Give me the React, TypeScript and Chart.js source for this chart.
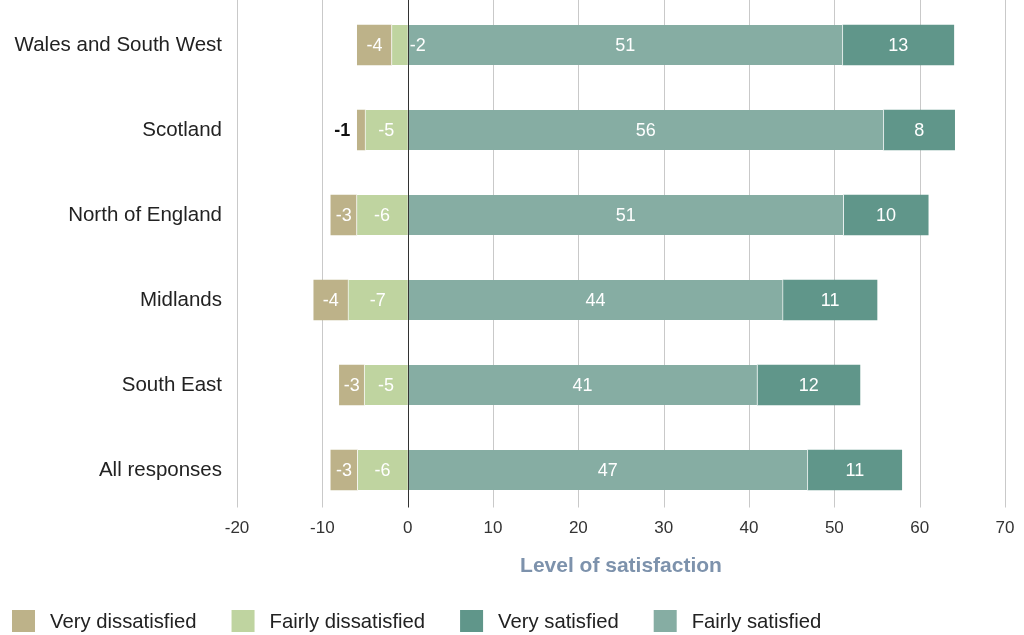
import React, { useEffect, useRef } from "react";
import { Chart, registerables } from "chart.js";

Chart.register(...registerables);

const FONT = "'Liberation Sans', Arial, Helvetica, sans-serif";

const categories = [
  "Wales and South West",
  "Scotland",
  "North of England",
  "Midlands",
  "South East",
  "All responses",
];
const veryDissatisfied = [-4, -0.9, -3, -4, -2.9, -3.1];
const fairlyDissatisfied = [-1.9, -5, -6, -7, -5.1, -5.9];
const fairlySatisfied = [51, 55.8, 51.1, 44, 41, 46.9];
const verySatisfied = [13, 8.3, 9.9, 11, 12, 11];

const xMin = -20;
const xMax = 70;
const xStep = 10;

const legendOrder = ["Very dissatisfied", "Fairly dissatisfied", "Very satisfied", "Fairly satisfied"];

const COLORS = {
  veryDis: "#bdb289",
  fairlyDis: "#bfd4a0",
  fairlySat: "#86ada3",
  verySat: "#60968a",
};

const customPlugin = {
  id: "customDraw",
  beforeDatasetsDraw(chart: any) {
    const { ctx, chartArea, scales } = chart;
    const x = scales.x;
    ctx.save();
    ctx.strokeStyle = "#c9c9c9";
    ctx.lineWidth = 1;
    x.ticks.forEach((t: any) => {
      if (t.value === 0) return;
      const px = Math.round(x.getPixelForValue(t.value)) + 0.5;
      ctx.beginPath();
      ctx.moveTo(px, 0);
      ctx.lineTo(px, chartArea.bottom - 5);
      ctx.stroke();
    });
    ctx.restore();
  },
  afterDatasetsDraw(chart: any) {
    const { ctx, chartArea, scales } = chart;
    const x = scales.x;
    ctx.save();
    const zx = Math.round(x.getPixelForValue(0)) + 0.5;
    ctx.strokeStyle = "#333333";
    ctx.lineWidth = 1;
    ctx.beginPath();
    ctx.moveTo(zx, 0);
    ctx.lineTo(zx, chartArea.bottom - 5);
    ctx.stroke();

    chart.data.datasets.forEach((ds: any, i: number) => {
      const meta = chart.getDatasetMeta(i);
      meta.data.forEach((el: any, j: number) => {
        const v = ds.data[j];
        const { x: ex, base, y } = el.getProps(["x", "base", "y"], true);
        const w = Math.abs(ex - base);
        const txt = String(Math.round(v));
        ctx.textBaseline = "middle";
        if (w >= 20) {
          ctx.fillStyle = "#ffffff";
          ctx.font = `18px ${FONT}`;
          ctx.textAlign = "center";
          ctx.fillText(txt, (ex + base) / 2, y + 1);
        } else if (ds.label === "Very dissatisfied") {
          ctx.fillStyle = "#111111";
          ctx.font = `bold 18px ${FONT}`;
          ctx.textAlign = "right";
          ctx.fillText(txt, Math.min(ex, base) - 7, y + 1);
        } else {
          ctx.fillStyle = "#ffffff";
          ctx.font = `18px ${FONT}`;
          ctx.textAlign = "left";
          ctx.fillText(txt, Math.max(ex, base) + 2, y + 1);
        }
      });
    });
    ctx.restore();
  },
  afterDraw(chart: any) {
    const { ctx } = chart;
    ctx.save();
    ctx.font = `20.3px ${FONT}`;
    ctx.textBaseline = "middle";
    ctx.textAlign = "left";
    let lx = 12;
    const boxTop = 610;
    legendOrder.forEach((label) => {
      const ds = chart.data.datasets.find((d: any) => d.label === label);
      if (!ds) return;
      ctx.fillStyle = ds.backgroundColor;
      ctx.fillRect(lx, boxTop, 23, 22);
      ctx.fillStyle = "#222222";
      ctx.fillText(label, lx + 38, boxTop + 12);
      lx += 38 + ctx.measureText(label).width + 35;
    });
    ctx.restore();
  },
};

export default function App() {
  const ref = useRef<HTMLCanvasElement | null>(null);

  useEffect(() => {
    document.body.style.margin = "0";
    if (!ref.current) return;
    const chart = new Chart(ref.current, {
      type: "bar",
      data: {
        labels: categories,
        datasets: [
          {
            label: "Fairly dissatisfied",
            data: fairlyDissatisfied,
            backgroundColor: COLORS.fairlyDis,
            borderColor: "rgba(255,255,255,0.8)",
            borderWidth: { left: 1, right: 0, top: 0, bottom: 0 },
            borderSkipped: false,
          },
          {
            label: "Very dissatisfied",
            data: veryDissatisfied,
            backgroundColor: COLORS.veryDis,
            borderWidth: 0,
          },
          {
            label: "Fairly satisfied",
            data: fairlySatisfied,
            backgroundColor: COLORS.fairlySat,
            borderColor: "rgba(255,255,255,0.8)",
            borderWidth: { left: 0, right: 1, top: 0, bottom: 0 },
            borderSkipped: false,
          },
          {
            label: "Very satisfied",
            data: verySatisfied,
            backgroundColor: COLORS.verySat,
            borderWidth: 0,
          },
        ],
      },
      options: {
        indexAxis: "y",
        animation: false,
        responsive: true,
        maintainAspectRatio: false,
        datasets: { bar: { barThickness: 40 } },
        layout: { padding: { top: 2.5, right: 19, bottom: 40, left: 0 } },
        plugins: {
          legend: { display: false },
          tooltip: { enabled: false },
        },
        scales: {
          x: {
            type: "linear",
            stacked: true,
            min: xMin,
            max: xMax,
            ticks: {
              stepSize: xStep,
              font: { family: FONT, size: 17 },
              color: "#333333",
              padding: 6,
            },
            grid: { display: false, drawTicks: false },
            border: { display: false },
            title: {
              display: true,
              text: "Level of satisfaction",
              font: { family: FONT, size: 21, weight: "bold" },
              color: "#7d92ac",
              padding: { top: 0, bottom: 16 },
            },
            afterFit: (s: any) => {
              s.height = 82.5;
              s.paddingLeft = 0;
              s.paddingRight = 0;
            },
          },
          y: {
            type: "category",
            stacked: true,
            ticks: {
              font: { family: FONT, size: 20.5 },
              color: "#222222",
              padding: 15,
            },
            grid: { display: false, drawTicks: false },
            border: { display: false },
            afterFit: (s: any) => {
              s.width = 237;
              s.paddingTop = 0;
              s.paddingBottom = 0;
            },
          },
        },
      },
      plugins: [customPlugin],
    } as any);
    return () => chart.destroy();
  }, []);

  return (
    <div style={{ position: "absolute", left: 0, top: 0, width: 1024, height: 635 }}>
      <canvas ref={ref} />
    </div>
  );
}
